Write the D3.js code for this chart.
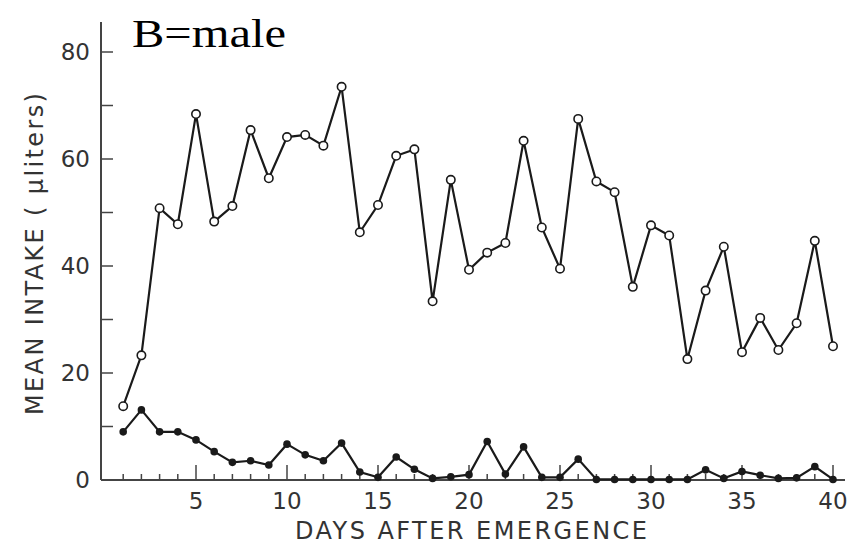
<!DOCTYPE html>
<html>
<head>
<meta charset="utf-8">
<script src="https://cdn.jsdelivr.net/npm/d3@7"></script>
<style>
  html, body { margin: 0; padding: 0; background: #fff; }
  svg { display: block; }
</style>
</head>
<body>
<svg id="chart" width="857" height="547"></svg>
<script>
// Days after emergence
const days = [1, 2, 3, 4, 5, 6, 7, 8, 9, 10, 11, 12, 13, 14, 15, 16, 17, 18, 19, 20,
  21, 22, 23, 24, 25, 26, 27, 28, 29, 30, 31, 32, 33, 34, 35, 36, 37, 38, 39, 40];

// Open circles (upper series)
const openSeries = [13.8, 23.3, 50.8, 47.8, 68.4, 48.3, 51.2, 65.4, 56.4, 64.1,
  64.5, 62.5, 73.5, 46.3, 51.4, 60.6, 61.8, 33.4, 56.1, 39.3,
  42.5, 44.3, 63.4, 47.2, 39.5, 67.5, 55.8, 53.8, 36.1, 47.6,
  45.7, 22.6, 35.4, 43.6, 23.9, 30.3, 24.3, 29.3, 44.7, 25.0];

// Filled circles (lower series)
const filledSeries = [9.0, 13.1, 9.0, 9.0, 7.5, 5.3, 3.3, 3.6, 2.8, 6.7,
  4.7, 3.6, 6.9, 1.5, 0.5, 4.3, 2.0, 0.3, 0.6, 1.0,
  7.2, 1.1, 6.2, 0.5, 0.5, 3.9, 0.1, 0.1, 0.1, 0.1,
  0.1, 0.1, 1.9, 0.3, 1.6, 0.9, 0.3, 0.4, 2.5, 0.1];

const yTicks = [0, 10, 20, 30, 40, 50, 60, 70, 80];
const yLabels = [0, 20, 40, 60, 80];
const xLabels = [5, 10, 15, 20, 25, 30, 35, 40];

const svg = d3.select("#chart");
const ink = "#1a1a1a";
const axisInk = "#444";
const font = "'DejaVu Sans', Arial, sans-serif";

const x = d3.scaleLinear().domain([0, 40]).range([105, 833]);
const y = d3.scaleLinear().domain([0, 80]).range([480, 52]);

const x0 = 101; // y-axis position

// axes lines
svg.append("line")
  .attr("x1", x0).attr("x2", 845)
  .attr("y1", y(0)).attr("y2", y(0))
  .attr("stroke", axisInk).attr("stroke-width", 2);
svg.append("line")
  .attr("x1", x0).attr("x2", x0)
  .attr("y1", y(0)).attr("y2", 22)
  .attr("stroke", axisInk).attr("stroke-width", 2);

// y ticks, pointing inward
svg.selectAll(".ytick")
  .data(yTicks)
  .enter()
  .append("line")
  .attr("x1", x0).attr("x2", x0 + 12)
  .attr("y1", d => y(d)).attr("y2", d => y(d))
  .attr("stroke", axisInk).attr("stroke-width", 1.5);

svg.selectAll(".ylab")
  .data(yLabels)
  .enter()
  .append("text")
  .attr("x", x0 - 11)
  .attr("y", d => y(d))
  .attr("dy", "0.36em")
  .attr("text-anchor", "end")
  .style("font-family", font)
  .style("font-size", "23px")
  .style("fill", "#333")
  .text(d => d);

// x ticks: minor each day, major every 5
svg.selectAll(".xtick")
  .data(days)
  .enter()
  .append("line")
  .attr("x1", d => x(d)).attr("x2", d => x(d))
  .attr("y1", y(0))
  .attr("y2", d => d % 5 === 0 ? y(0) - 15 : y(0) - 6)
  .attr("stroke", axisInk).attr("stroke-width", 1.5);

svg.selectAll(".xlab")
  .data(xLabels)
  .enter()
  .append("text")
  .attr("x", d => x(d))
  .attr("y", 509)
  .attr("text-anchor", "middle")
  .style("font-family", font)
  .style("font-size", "23px")
  .style("fill", "#333")
  .text(d => d);

// axis titles
svg.append("text")
  .attr("x", 295)
  .attr("y", 539)
  .attr("textLength", 352)
  .attr("lengthAdjust", "spacing")
  .style("font-family", font)
  .style("font-size", "24px")
  .style("fill", "#333")
  .text("DAYS AFTER EMERGENCE");

svg.append("text")
  .attr("transform", "translate(43,415) rotate(-90)")
  .attr("textLength", 322)
  .attr("lengthAdjust", "spacing")
  .style("font-family", font)
  .style("font-size", "24px")
  .style("fill", "#333")
  .text("MEAN INTAKE ( μliters)");

// series
const line = d3.line()
  .x((d, i) => x(days[i]))
  .y(d => y(d));

svg.append("path")
  .attr("d", line(filledSeries))
  .attr("fill", "none")
  .attr("stroke", ink)
  .attr("stroke-width", 2.2);

svg.append("path")
  .attr("d", line(openSeries))
  .attr("fill", "none")
  .attr("stroke", ink)
  .attr("stroke-width", 2.2);

svg.selectAll(".dotf")
  .data(filledSeries)
  .enter()
  .append("circle")
  .attr("cx", (d, i) => x(days[i]))
  .attr("cy", d => y(d))
  .attr("r", 3.8)
  .attr("fill", ink);

svg.selectAll(".doto")
  .data(openSeries)
  .enter()
  .append("circle")
  .attr("cx", (d, i) => x(days[i]))
  .attr("cy", d => y(d))
  .attr("r", 4.2)
  .attr("fill", "#fff")
  .attr("stroke", ink)
  .attr("stroke-width", 1.6);

// panel label
svg.append("text")
  .attr("x", 132)
  .attr("y", 47)
  .attr("textLength", 154)
  .attr("lengthAdjust", "spacingAndGlyphs")
  .style("font-family", "'Liberation Serif', 'Times New Roman', serif")
  .style("font-size", "39px")
  .style("fill", "#000")
  .text("B=male");
</script>
</body>
</html>
